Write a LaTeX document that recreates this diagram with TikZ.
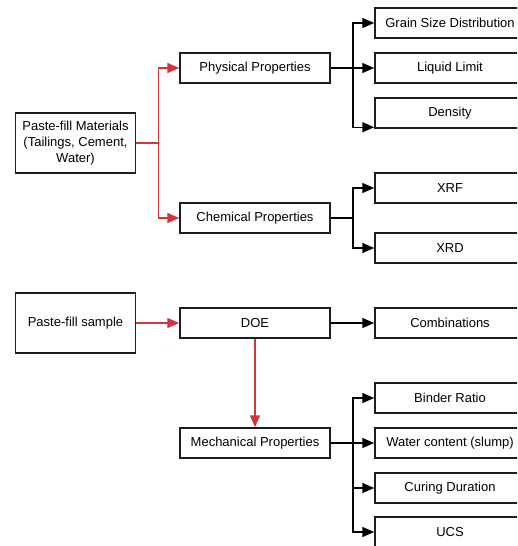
\documentclass[tikz,border=0pt]{standalone}
\usepackage{fontspec}
\setmainfont{Liberation Sans}
\usetikzlibrary{arrows.meta,calc}
\definecolor{redline}{RGB}{208,52,62}
\definecolor{boxline}{RGB}{30,30,30}
\tikzset{
  box/.style={draw=boxline, line width=1.5pt, rectangle, minimum width=150pt, minimum height=30pt, inner sep=2pt, align=center, font=\fontsize{13}{16}\selectfont},
  bigbox/.style={box, minimum width=120pt, minimum height=60pt},
  blk/.style={draw=black, line width=1.5pt, -{Triangle[length=12pt,width=10pt]}},
  redarr/.style={draw=redline, line width=1.5pt, -{Triangle[length=12pt,width=10pt]}}
}
\begin{document}
\begin{tikzpicture}[x=1pt,y=-1pt]
\useasboundingbox (0,0) rectangle (517,546);
\clip (0,0) rectangle (517,546);
% left boxes
\node[bigbox] (mat) at (75.5,143) {Paste-fill Materials\\(Tailings, Cement,\\Water)};
\node[bigbox] (sample) at (75.5,323) {Paste-fill sample};
% middle boxes
\node[box] (phys) at (255,68) {Physical Properties};
\node[box] (chem) at (255,218) {Chemical Properties};
\node[box] (doe) at (255,323) {DOE};
\node[box] (mech) at (255,443) {Mechanical Properties};
% right boxes
\node[box] (grain) at (450,23) {Grain Size Distribution};
\node[box] (liquid) at (450,68) {Liquid Limit};
\node[box] (dens) at (450,113) {Density};
\node[box] (xrf) at (450,188) {XRF};
\node[box] (xrd) at (450,248) {XRD};
\node[box] (comb) at (450,323) {Combinations};
\node[box] (binder) at (450,398) {Binder Ratio};
\node[box] (water) at (450,443) {Water content (slump)};
\node[box] (curing) at (450,488) {Curing Duration};
\node[box] (ucs) at (450,532) {UCS};
% coordinates
\coordinate (rt) at ($(mat.east)+(22,0)$);
\coordinate (pt) at ($(phys.east)+(22,0)$);
\coordinate (ct) at ($(chem.east)+(22,0)$);
\coordinate (mt) at ($(mech.east)+(22,0)$);
\coordinate (densin) at ($(dens.south west)+(0,-1.5)$);
% red connectors
\draw[draw=redline, line width=1.5pt] (mat.east) -- (rt);
\draw[redarr] (rt) |- (phys.west);
\draw[redarr] (rt) |- (chem.west);
\draw[redarr] (sample.east) -- (doe.west);
\draw[redarr] (doe.south) -- (mech.north);
% black connectors
\draw[line width=1.5pt] (phys.east) -- (pt);
\draw[blk] (pt) |- (grain.west);
\draw[blk] (pt) -- (liquid.west);
\draw[blk] (pt) |- (densin);
\draw[line width=1.5pt] (chem.east) -- (ct);
\draw[blk] (ct) |- (xrf.west);
\draw[blk] (ct) |- (xrd.west);
\draw[blk] (doe.east) -- (comb.west);
\draw[line width=1.5pt] (mech.east) -- (mt);
\draw[blk] (mt) |- (binder.west);
\draw[blk] (mt) -- (water.west);
\draw[blk] (mt) |- (curing.west);
\draw[blk] (mt) |- (ucs.west);
\end{tikzpicture}
\end{document}
